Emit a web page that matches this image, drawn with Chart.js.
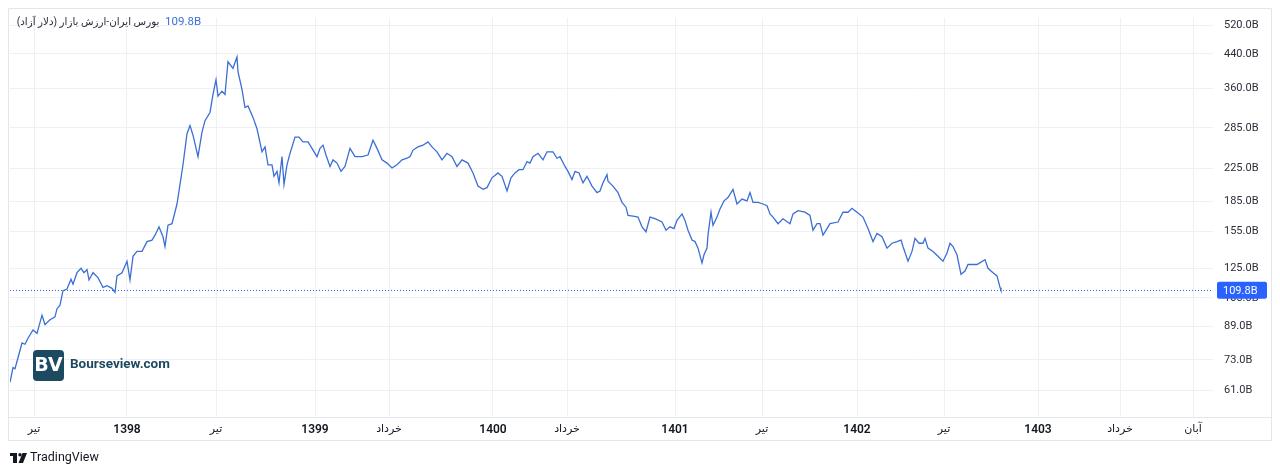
<!DOCTYPE html>
<html>
<head>
<meta charset="utf-8">
<script src="https://cdn.jsdelivr.net/npm/chart.js@4/dist/chart.umd.min.js"></script>
<style>
  html, body { margin: 0; background: #fff; }
  #wrap { width: 1280px; height: 476px; }
</style>
</head>
<body>
<div id="wrap"><canvas id="myChart"></canvas></div>
<script>
// bar index (session position on the time axis) and market value in billions of USD
const bars = [
  0, 3, 5, 8, 12, 15, 18, 23, 27, 32,
  35, 40, 45, 47, 50, 53, 57, 61, 63, 67,
  71, 74, 77, 79, 83, 88, 93, 97, 102, 105,
  107, 112, 117, 120, 123, 127, 132, 137, 142, 145,
  149, 153, 155, 158, 162, 167, 170, 173, 177, 180,
  183, 188, 192, 195, 200, 203, 206, 208, 212, 215,
  218, 223, 227, 228, 232, 235, 238, 243, 247, 252,
  255, 258, 262, 264, 267, 269, 272, 274, 277, 280,
  285, 289, 293, 298, 302, 307, 310, 313, 316, 320,
  323, 327, 331, 335, 340, 345, 352, 358, 363, 367,
  372, 377, 382, 387, 392, 397, 400, 403, 408, 413,
  418, 422, 427, 432, 437, 442, 447, 452, 458, 463,
  468, 473, 477, 482, 488, 492, 497, 501, 505, 509,
  513, 517, 520, 523, 528, 533, 537, 543, 547, 550,
  555, 558, 562, 565, 569, 573, 577, 582, 587, 590,
  593, 597, 598, 603, 608, 612, 616, 618, 623, 628,
  632, 636, 640, 645, 652, 656, 660, 664, 667, 672,
  675, 678, 682, 685, 688, 692, 694, 697, 698, 701,
  703, 707, 710, 714, 718, 723, 727, 732, 737, 740,
  743, 748, 753, 757, 760, 763, 768, 773, 780, 783,
  788, 795, 800, 803, 807, 810, 813, 817, 820, 828,
  833, 838, 842, 847, 853, 858, 863, 867, 872, 877,
  882, 887, 891, 893, 898, 902, 905, 909, 913, 915,
  918, 923, 928, 933, 937, 940, 943, 947, 951, 955,
  958, 967, 975, 978, 983, 987, 990, 991
];
const values = [
  64.0, 69.8, 69.3, 73.9, 80.6, 80.0, 82.9, 87.0, 85.3, 94.9,
  89.8, 92.4, 94.0, 98.6, 100.7, 109.6, 110.6, 117.2, 113.8, 121.8,
  125.0, 121.8, 124.1, 116.7, 121.8, 118.3, 111.7, 112.8, 111.1, 108.5,
  119.5, 121.8, 130.3, 116.7, 134.1, 138.0, 138.0, 146.2, 147.5, 151.8,
  159.4, 150.4, 142.0, 160.9, 162.4, 182.3, 204.5, 229.5, 275.5, 289.0,
  273.0, 240.7, 278.0, 297.4, 312.0, 346.8, 378.1, 343.5, 353.5, 346.8,
  420.2, 404.3, 432.5, 396.7, 357.0, 321.1, 324.2, 303.1, 283.5, 247.7,
  255.0, 229.5, 229.5, 214.5, 220.8, 206.5, 240.7, 204.5, 229.5, 245.5,
  270.1, 270.1, 262.5, 262.5, 252.7, 240.7, 252.7, 257.5, 243.0, 227.3,
  236.2, 231.8, 220.8, 227.3, 252.7, 240.7, 240.7, 243.0, 265.0, 252.7,
  236.2, 231.8, 225.2, 229.5, 236.2, 238.5, 240.7, 250.2, 255.0, 257.5,
  262.5, 255.0, 247.7, 236.2, 245.5, 240.7, 227.3, 236.2, 231.8, 218.8,
  202.5, 198.7, 200.7, 212.6, 218.8, 214.5, 196.8, 212.6, 218.8, 223.0,
  223.0, 233.9, 231.8, 240.7, 245.5, 236.2, 247.7, 247.7, 238.5, 240.7,
  227.3, 220.8, 210.5, 220.8, 218.8, 206.5, 214.5, 202.5, 194.9, 196.8,
  206.5, 216.6, 208.4, 202.5, 194.9, 184.1, 178.9, 170.4, 169.8, 168.8,
  159.4, 154.9, 168.8, 167.2, 164.0, 156.3, 159.4, 157.8, 165.6, 172.0,
  165.6, 156.3, 147.5, 146.2, 140.7, 129.0, 135.3, 140.7, 151.8, 173.7,
  160.9, 168.8, 177.1, 185.7, 189.4, 198.7, 182.3, 187.6, 185.7, 194.9,
  184.1, 184.1, 182.3, 180.5, 172.0, 168.8, 162.4, 167.2, 162.4, 172.0,
  175.3, 173.7, 170.4, 156.3, 162.4, 162.4, 151.8, 157.8, 162.4, 164.0,
  173.7, 173.7, 177.8, 173.7, 168.8, 157.8, 146.2, 153.4, 150.4, 140.7,
  144.8, 146.2, 147.5, 142.0, 130.3, 138.0, 149.0, 144.8, 144.8, 149.0,
  140.7, 138.0, 134.1, 130.3, 136.7, 144.8, 142.0, 135.3, 120.6, 123.0,
  127.8, 127.8, 131.5, 125.0, 121.8, 119.5, 111.7, 109.8
];

const xTicks = [24, 117, 206, 305, 379, 483, 557, 665, 752, 847, 934, 1028, 1110, 1183];
const xLabels = ['تیر', '1398', 'تیر', '1399', 'خرداد', '1400', 'خرداد', '1401', 'تیر', '1402', 'تیر', '1403', 'خرداد', 'آبان'];
const yTicks = [61, 73, 89, 105, 125, 155, 185, 225, 285, 360, 440, 520];

const lastValue = values[values.length - 1];
const title = 'بورس ایران-ارزش بازار (دلار آزاد)';
const FONT = 'Roboto, "DejaVu Sans", sans-serif';

const decor = {
  id: 'decor',
  beforeDraw(chart) {
    const c = chart.ctx;
    const a = chart.chartArea;
    c.save();
    c.strokeStyle = '#e3e6ec';
    c.lineWidth = 1;
    c.beginPath();
    c.rect(8.5, 8.5, 1263, 432);
    c.moveTo(8.5, a.bottom + 0.5);
    c.lineTo(1271.5, a.bottom + 0.5);
    c.stroke();
    c.restore();
  },
  afterDatasetsDraw(chart) {
    const c = chart.ctx;
    const a = chart.chartArea;
    const y = Math.round(chart.scales.y.getPixelForValue(lastValue)) + 0.5;
    c.save();
    c.strokeStyle = '#2962ff';
    c.lineWidth = 1;
    c.setLineDash([1, 2]);
    c.beginPath();
    c.moveTo(a.left, y);
    c.lineTo(a.right, y);
    c.stroke();
    c.restore();
  },
  afterDraw(chart) {
    const c = chart.ctx;
    const a = chart.chartArea;
    const y = chart.scales.y.getPixelForValue(lastValue);
    c.save();
    // last value label on the price axis
    c.fillStyle = '#2962ff';
    c.beginPath();
    c.roundRect(a.right + 4, y - 8.5, 50, 17, 2);
    c.fill();
    c.fillStyle = '#fff';
    c.font = '11px ' + FONT;
    c.textBaseline = 'middle';
    c.textAlign = 'left';
    c.fillText(lastValue.toFixed(1) + 'B', a.right + 10, y + 0.5);

    // title
    c.fillStyle = '#2a2e39';
    c.font = '10.3px ' + FONT;
    c.direction = 'rtl';
    c.textAlign = 'center';
    c.fillText(title, 88, 22);
    c.direction = 'ltr';
    c.textAlign = 'left';
    c.fillStyle = '#3d6fd6';
    c.font = '11.5px ' + FONT;
    c.fillText(lastValue.toFixed(1) + 'B', 165, 22);

    // Bourseview watermark
    c.fillStyle = '#1c4a61';
    c.beginPath();
    c.roundRect(33, 350, 31, 31, 4);
    c.fill();
    c.fillStyle = '#fff';
    c.font = 'bold 19px "DejaVu Sans", sans-serif';
    c.textAlign = 'center';
    c.fillText('BV', 48.5, 366.5);
    c.fillStyle = '#1d4a60';
    c.font = 'bold 13.5px ' + FONT;
    c.textAlign = 'left';
    c.fillText('Bourseview.com', 70, 365);

    // TradingView footer
    c.fillStyle = '#131722';
    c.fillRect(10, 453, 7, 3);
    c.fillRect(13, 453, 4, 10);
    c.beginPath();
    c.arc(20, 454.7, 1.7, 0, Math.PI * 2);
    c.fill();
    c.beginPath();
    c.moveTo(22.5, 453);
    c.lineTo(27, 453);
    c.lineTo(23, 463);
    c.lineTo(18.5, 463);
    c.closePath();
    c.fill();
    c.font = '12.5px ' + FONT;
    c.fillText('TradingView', 30, 458);
    c.restore();
  }
};

const ctx = document.getElementById('myChart');

const myChart = new Chart(ctx, {
  type: 'line',
  data: {
    datasets: [{
      data: bars.map((b, i) => ({ x: b, y: values[i] })),
      borderColor: '#3b6fd4',
      borderWidth: 1.3,
      pointRadius: 0,
      tension: 0,
      fill: false
    }]
  },
  options: {
    responsive: true,
    maintainAspectRatio: false,
    animation: false,
    devicePixelRatio: 1,
    layout: { padding: { left: 10, top: 10, right: 0, bottom: 0 } },
    plugins: { legend: { display: false }, tooltip: { enabled: false } },
    scales: {
      x: {
        type: 'linear',
        position: 'bottom',
        min: 0,
        max: 1203,
        border: { display: false },
        grid: { color: '#eef0f4', drawTicks: false },
        afterBuildTicks: s => { s.ticks = xTicks.map(v => ({ value: v })); },
        afterFit: s => { s.height = 59; },
        ticks: {
          autoSkip: false,
          maxRotation: 0,
          padding: 6,
          color: '#131722',
          callback: (v, i) => xLabels[i],
          font: c => ({
            family: FONT,
            size: /^\d+$/.test(xLabels[c.index]) ? 12 : 11,
            weight: /^\d+$/.test(xLabels[c.index]) ? '600' : 'normal'
          })
        }
      },
      y: {
        type: 'logarithmic',
        position: 'right',
        min: 52.2,
        max: 544.6,
        border: { display: false },
        grid: { color: '#eef0f4', drawTicks: false },
        afterBuildTicks: s => { s.ticks = yTicks.map(v => ({ value: v })); },
        afterFit: s => { s.width = 67; },
        ticks: {
          autoSkip: false,
          padding: 11,
          color: '#2a2e39',
          font: { family: FONT, size: 11 },
          callback: v => Number(v).toFixed(1) + 'B'
        }
      }
    }
  },
  plugins: [decor]
});
</script>
</body>
</html>
